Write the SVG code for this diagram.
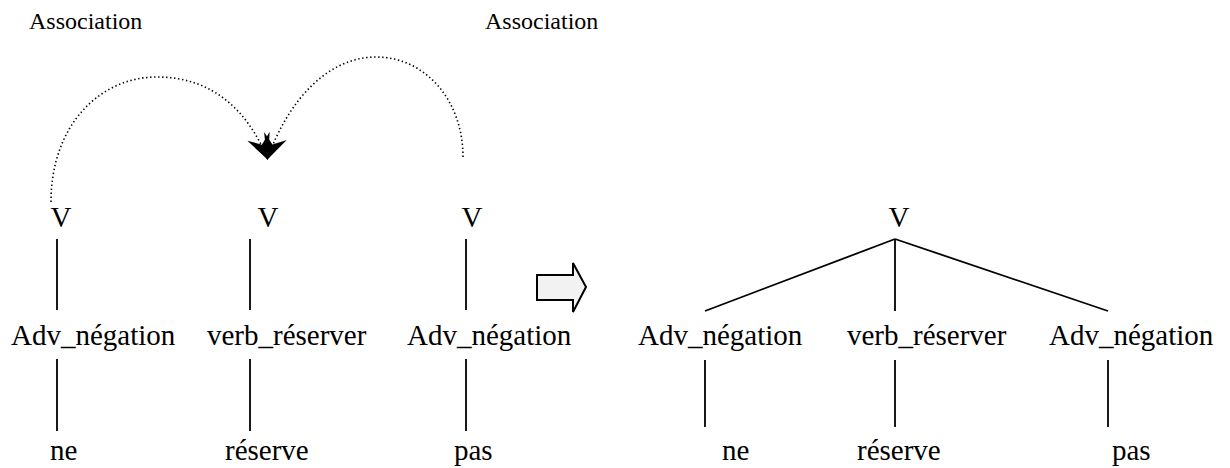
<svg xmlns="http://www.w3.org/2000/svg" width="1230" height="468" viewBox="0 0 1230 468" font-family="'Liberation Serif', 'Times New Roman', serif">
<style>
text{font-family:'Liberation Serif','Times New Roman',serif;fill:#000}
.t{font-size:29px}
.s{font-size:24px}
.l{stroke:#000;stroke-width:1.8;fill:none}
.d{stroke:#000;stroke-width:1.6;fill:none;stroke-dasharray:1.4 2.6}
</style>
<defs>
<marker id="ah" markerUnits="userSpaceOnUse" markerWidth="30" markerHeight="30" viewBox="-18 -10 20 20" refX="0" refY="0" orient="auto">
<path d="M0,0 L-17,-8 L-11,0 L-17,8 Z" fill="#000"/>
</marker>
</defs>
<rect width="1230" height="468" fill="#fff"/>
<g id="labels">
<text class="s" x="29" y="29">Association</text>
<text class="s" x="485" y="29">Association</text>
</g>
<g id="left-tree">
<g id="lv1"><text class="t" x="61" y="227" text-anchor="middle">V</text></g>
<g id="lv2"><text class="t" x="268" y="227" text-anchor="middle">V</text></g>
<g id="lv3"><text class="t" x="472" y="227" text-anchor="middle">V</text></g>
<g id="la1"><text class="t" x="11" y="345">Adv_négation</text></g>
<g id="la2"><text class="t" x="207" y="345">verb_réserver</text></g>
<g id="la3"><text class="t" x="407" y="345">Adv_négation</text></g>
<g id="lw1"><text class="t" x="50" y="460">ne</text></g>
<g id="lw2"><text class="t" x="225" y="460">réserve</text></g>
<g id="lw3"><text class="t" x="454" y="460">pas</text></g>
</g>
<g id="right-tree">
<g id="rv"><text class="t" x="899" y="227" text-anchor="middle">V</text></g>
<g id="ra1"><text class="t" x="638" y="345">Adv_négation</text></g>
<g id="ra2"><text class="t" x="847" y="345">verb_réserver</text></g>
<g id="ra3"><text class="t" x="1049" y="345">Adv_négation</text></g>
<g id="rw1"><text class="t" x="722" y="460">ne</text></g>
<g id="rw2"><text class="t" x="857" y="460">réserve</text></g>
<g id="rw3"><text class="t" x="1112" y="460">pas</text></g>
</g>
<g id="block-arrow">
<path d="M537,275 L573,275 L573,263 L586,287 L573,312 L573,300 L537,300 Z" fill="#f2f2f2" stroke="#000" stroke-width="2" stroke-linejoin="miter"/>
</g>
<g id="connectors">
<line class="l" x1="57" y1="239" x2="57" y2="310"/>
<line class="l" x1="250" y1="239" x2="250" y2="310"/>
<line class="l" x1="466" y1="239" x2="466" y2="310"/>
<line class="l" x1="57" y1="359" x2="57" y2="431"/>
<line class="l" x1="250" y1="359" x2="250" y2="431"/>
<line class="l" x1="466" y1="359" x2="466" y2="431"/>
<line class="l" x1="895" y1="239" x2="705" y2="311"/>
<line class="l" x1="895" y1="239" x2="895" y2="311"/>
<line class="l" x1="895" y1="239" x2="1108" y2="311"/>
<line class="l" x1="705" y1="360" x2="705" y2="427"/>
<line class="l" x1="895" y1="360" x2="895" y2="427"/>
<line class="l" x1="1108" y1="360" x2="1108" y2="427"/>
<path class="d" d="M51,202 C51,125 100,77 157,77 C212,77 248,110 268,160" marker-end="url(#ah)"/>
<path class="d" d="M463,157 C463,100 425,57 376,57 C328,57 288,100 267,160" marker-end="url(#ah)"/>
</g>
</svg>
